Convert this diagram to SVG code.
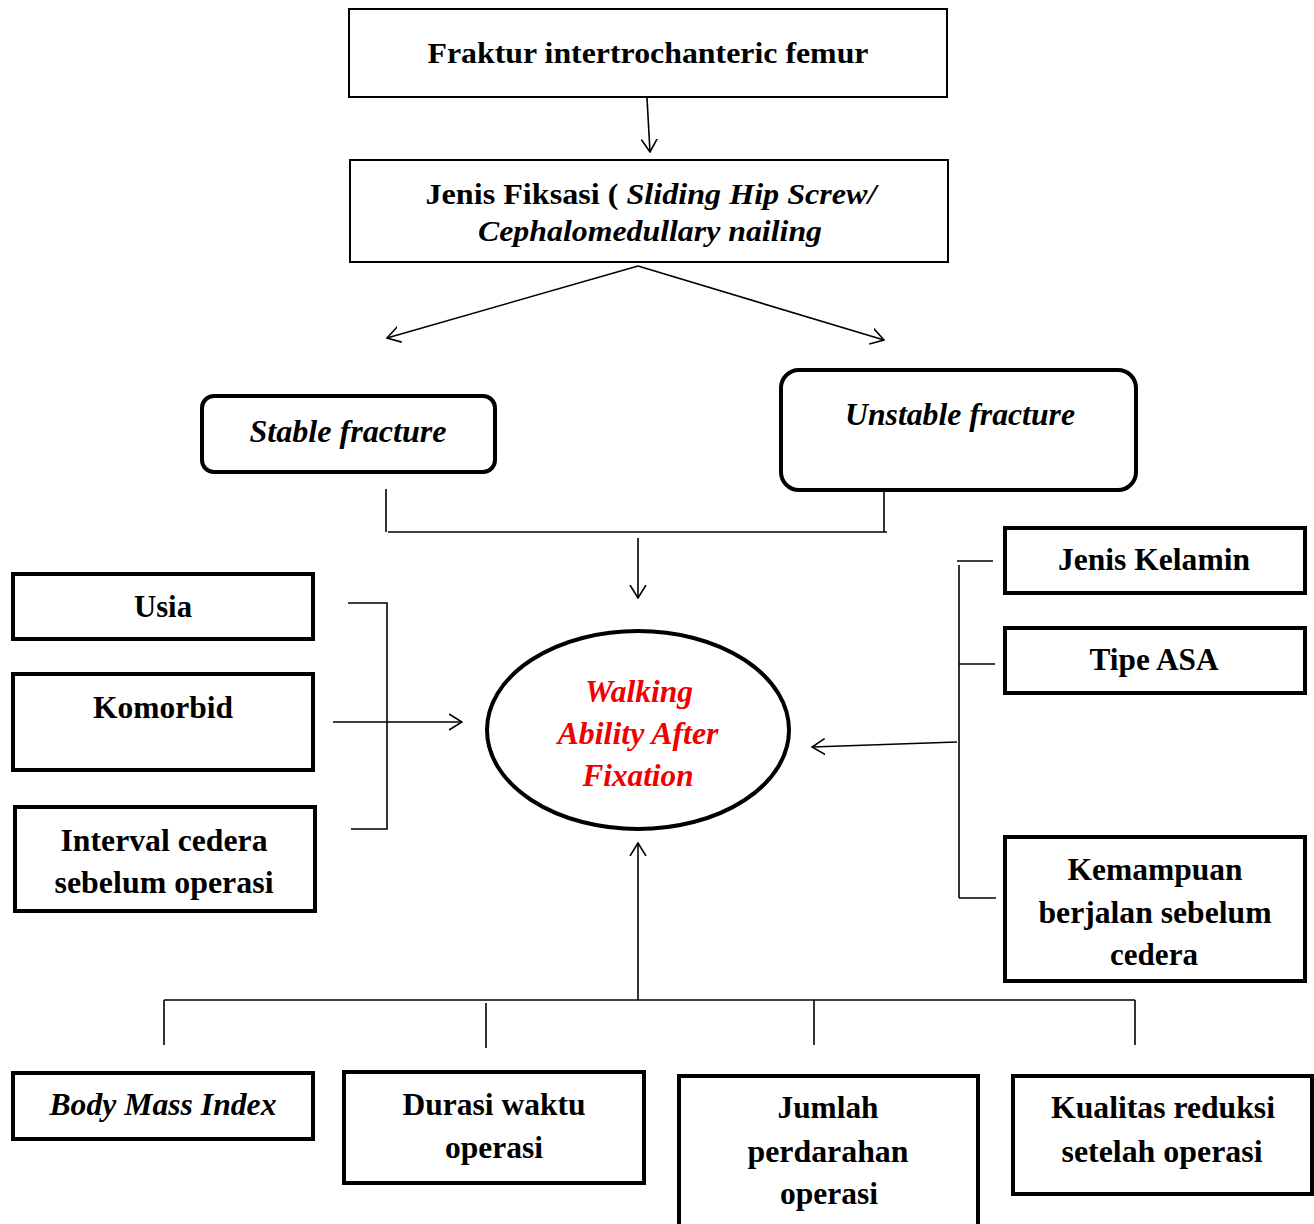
<svg xmlns="http://www.w3.org/2000/svg" width="1314" height="1224" viewBox="0 0 1314 1224">
<style>
text{font-family:"Liberation Serif","Times New Roman",serif;font-weight:bold;fill:#000;text-anchor:middle}
.t{font-size:30px}
.n{font-size:32px}
.i{font-style:italic}
.red{fill:#f00000}
.b1{fill:#fff;stroke:#000;stroke-width:2}
.b2{fill:#fff;stroke:#000;stroke-width:4}
.c{fill:none;stroke:#000;stroke-width:1.6}
</style>
<defs>
<marker id="ah" viewBox="0 0 14 18" refX="13" refY="9" markerWidth="14" markerHeight="18" markerUnits="userSpaceOnUse" orient="auto">
<path d="M0,1 L13,9 L0,17" fill="none" stroke="#000" stroke-width="1.6"/>
</marker>
</defs>
<rect width="1314" height="1224" fill="#fff"/>

<g id="connectors">
<line class="c" x1="647" y1="98" x2="650" y2="152" marker-end="url(#ah)"/>
<line class="c" x1="638" y1="266" x2="387" y2="338" marker-end="url(#ah)"/>
<line class="c" x1="638" y1="266" x2="884" y2="340" marker-end="url(#ah)"/>
<line class="c" x1="386" y1="489" x2="386" y2="532"/>
<line class="c" x1="884" y1="492" x2="884" y2="532"/>
<line class="c" x1="388" y1="532" x2="887" y2="532"/>
<line class="c" x1="638" y1="538" x2="638" y2="598" marker-end="url(#ah)"/>
<polyline class="c" points="348,603 387,603 387,829 351,829"/>
<line class="c" x1="333" y1="722" x2="462" y2="722" marker-end="url(#ah)"/>
<line class="c" x1="959" y1="565" x2="959" y2="898"/>
<line class="c" x1="957" y1="561" x2="993" y2="561"/>
<line class="c" x1="959" y1="664" x2="995" y2="664"/>
<line class="c" x1="959" y1="898" x2="996" y2="898"/>
<line class="c" x1="957" y1="742" x2="812" y2="747" marker-end="url(#ah)"/>
<line class="c" x1="164" y1="1000" x2="1135" y2="1000"/>
<line class="c" x1="638" y1="1000" x2="638" y2="843" marker-end="url(#ah)"/>
<line class="c" x1="164" y1="1000" x2="164" y2="1045"/>
<line class="c" x1="486" y1="1003" x2="486" y2="1048"/>
<line class="c" x1="814" y1="1000" x2="814" y2="1045"/>
<line class="c" x1="1135" y1="1000" x2="1135" y2="1045"/>
</g>

<g id="fraktur">
<rect class="b1" x="349" y="9" width="598" height="88"/>
<text class="t" x="648" y="63" textLength="441" lengthAdjust="spacingAndGlyphs">Fraktur intertrochanteric femur</text>
</g>

<g id="fiksasi">
<rect class="b1" x="350" y="160" width="598" height="102"/>
<text class="t" x="651" y="204" textLength="451" lengthAdjust="spacingAndGlyphs">Jenis Fiksasi ( <tspan class="i">Sliding Hip Screw/</tspan></text>
<text class="t i" x="650" y="241" textLength="344" lengthAdjust="spacingAndGlyphs">Cephalomedullary nailing</text>
</g>

<g id="stable">
<rect class="b2" x="202" y="396" width="293" height="76" rx="12"/>
<text class="n i" x="348" y="442" textLength="197" lengthAdjust="spacingAndGlyphs">Stable fracture</text>
</g>

<g id="unstable">
<rect class="b2" x="781" y="370" width="355" height="120" rx="18"/>
<text class="n i" x="960" y="425" textLength="230" lengthAdjust="spacingAndGlyphs">Unstable fracture</text>
</g>

<g id="usia">
<rect class="b2" x="13" y="574" width="300" height="65"/>
<text class="n" x="163" y="617" textLength="58" lengthAdjust="spacingAndGlyphs">Usia</text>
</g>

<g id="komorbid">
<rect class="b2" x="13" y="674" width="300" height="96"/>
<text class="n" x="163" y="718" textLength="140" lengthAdjust="spacingAndGlyphs">Komorbid</text>
</g>

<g id="interval">
<rect class="b2" x="15" y="807" width="300" height="104"/>
<text class="n" x="164" y="851" textLength="207" lengthAdjust="spacingAndGlyphs">Interval cedera</text>
<text class="n" x="164" y="893" textLength="219" lengthAdjust="spacingAndGlyphs">sebelum operasi</text>
</g>

<g id="walking">
<ellipse cx="638" cy="730" rx="151" ry="99" fill="#fff" stroke="#000" stroke-width="4"/>
<text class="n i red" x="639" y="702" textLength="108" lengthAdjust="spacingAndGlyphs">Walking</text>
<text class="n i red" x="638" y="744" textLength="161" lengthAdjust="spacingAndGlyphs">Ability After</text>
<text class="n i red" x="638" y="786" textLength="111" lengthAdjust="spacingAndGlyphs">Fixation</text>
</g>

<g id="kelamin">
<rect class="b2" x="1005" y="528" width="300" height="65"/>
<text class="n" x="1154" y="570" textLength="192" lengthAdjust="spacingAndGlyphs">Jenis Kelamin</text>
</g>

<g id="asa">
<rect class="b2" x="1005" y="628" width="300" height="65"/>
<text class="n" x="1154" y="670" textLength="129" lengthAdjust="spacingAndGlyphs">Tipe ASA</text>
</g>

<g id="kemampuan">
<rect class="b2" x="1005" y="837" width="300" height="144"/>
<text class="n" x="1155" y="880" textLength="175" lengthAdjust="spacingAndGlyphs">Kemampuan</text>
<text class="n" x="1155" y="923" textLength="233" lengthAdjust="spacingAndGlyphs">berjalan sebelum</text>
<text class="n" x="1154" y="965" textLength="88" lengthAdjust="spacingAndGlyphs">cedera</text>
</g>

<g id="bmi">
<rect class="b2" x="13" y="1073" width="300" height="66"/>
<text class="n i" x="163" y="1115" textLength="227" lengthAdjust="spacingAndGlyphs">Body Mass Index</text>
</g>

<g id="durasi">
<rect class="b2" x="344" y="1072" width="300" height="111"/>
<text class="n" x="494" y="1115" textLength="183" lengthAdjust="spacingAndGlyphs">Durasi waktu</text>
<text class="n" x="494" y="1158" textLength="98" lengthAdjust="spacingAndGlyphs">operasi</text>
</g>

<g id="jumlah">
<rect class="b2" x="679" y="1076" width="299" height="170"/>
<text class="n" x="828" y="1118" textLength="101" lengthAdjust="spacingAndGlyphs">Jumlah</text>
<text class="n" x="828" y="1162" textLength="161" lengthAdjust="spacingAndGlyphs">perdarahan</text>
<text class="n" x="829" y="1204" textLength="98" lengthAdjust="spacingAndGlyphs">operasi</text>
</g>

<g id="kualitas">
<rect class="b2" x="1013" y="1076" width="299" height="118"/>
<text class="n" x="1163" y="1118" textLength="224" lengthAdjust="spacingAndGlyphs">Kualitas reduksi</text>
<text class="n" x="1162" y="1162" textLength="201" lengthAdjust="spacingAndGlyphs">setelah operasi</text>
</g>
</svg>
